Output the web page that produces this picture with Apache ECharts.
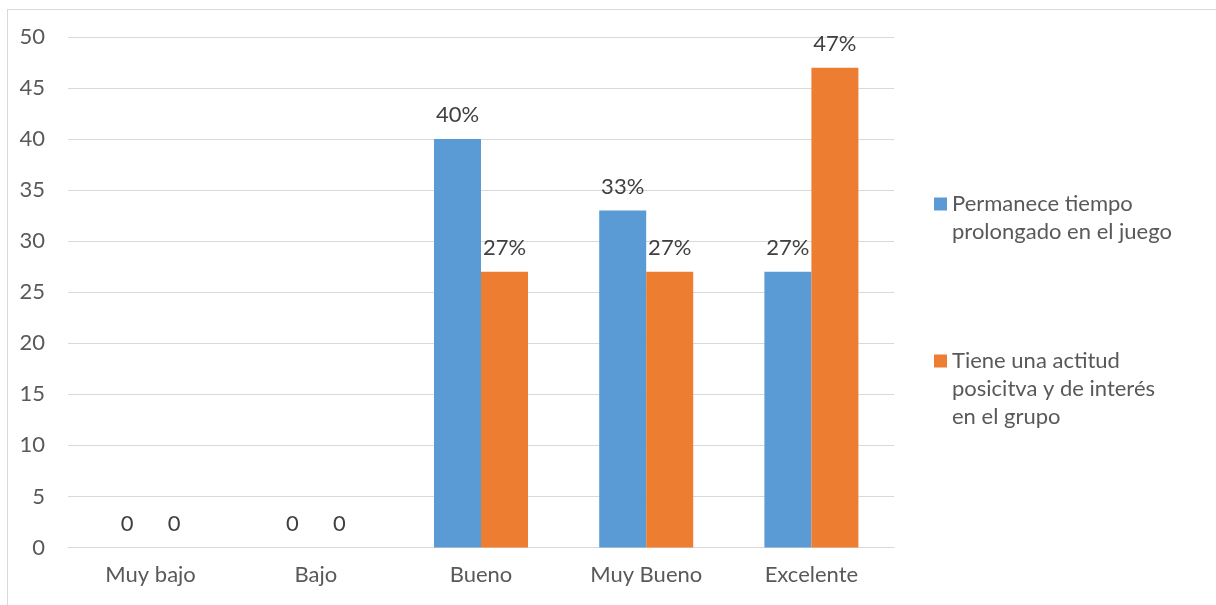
<!DOCTYPE html>
<html>
<head>
<meta charset="utf-8">
<script src="https://cdn.jsdelivr.net/npm/echarts@6/dist/echarts.min.js"></script>
<style>
html,body{margin:0;padding:0;background:#fff;overflow:hidden;}
#frame{position:absolute;left:7px;top:9px;width:1220px;height:610px;border:1px solid #D9D9D9;box-sizing:border-box;}
#chart{position:absolute;left:0;top:0;width:1216px;height:605px;}
</style>
</head>
<body>
<div id="frame"></div>
<div id="chart"></div>
<script>
const categories = ['Muy bajo', 'Bajo', 'Bueno', 'Muy Bueno', 'Excelente'];
const seriesNames = ['Permanece tiempo prolongado en el juego', 'Tiene una actitud posicitva y de interés en el grupo'];
const legendLines = [
  ['Permanece tiempo', 'prolongado en el juego'],
  ['Tiene una actitud', 'posicitva y de interés', 'en el grupo']
];
const permanece = [0, 0, 40, 33, 27];
const actitud = [0, 0, 27, 27, 47];
const yTicks = { min: 0, max: 50, interval: 5 };

const FONT = 'Lato';
const TXT = '#595959';
const FS = 22;
const chart = echarts.init(document.getElementById('chart'), null, { renderer: 'canvas' });

const labelFmt = p => (p.value === 0 ? '0' : p.value + '%');
const labelCfg = {
  show: true, position: 'top', distance: 13,
  formatter: labelFmt, color: '#404040', fontSize: FS, fontFamily: FONT
};

const LH = 28;
// leading blank lines so the first text line sits level with the legend square
const legendText = lines => '\n'.repeat(lines.length - 1) + lines.join('\n');
const legendBox = n => (2 * n - 1) * LH / 2;

chart.setOption({
  backgroundColor: 'transparent',
  animation: false,
  grid: { left: 68, right: 322, top: 37, bottom: 57.5, containLabel: false },
  xAxis: {
    type: 'category', data: categories,
    axisLine: { show: true, lineStyle: { color: '#D9D9D9', width: 1 } },
    axisTick: { show: false },
    axisLabel: { color: TXT, fontSize: FS, fontFamily: FONT, margin: 16 }
  },
  yAxis: {
    type: 'value', min: yTicks.min, max: yTicks.max, interval: yTicks.interval,
    axisLine: { show: false }, axisTick: { show: false },
    axisLabel: { color: TXT, fontSize: FS, fontFamily: FONT, margin: 23 },
    splitLine: { lineStyle: { color: '#D9D9D9', width: 1 } }
  },
  legend: [
    {
      orient: 'vertical', left: 934, top: 204 - legendBox(2), padding: 0,
      itemWidth: 13, itemHeight: 13, icon: 'rect',
      data: [seriesNames[0]],
      formatter: () => legendText(legendLines[0]),
      textStyle: { color: TXT, fontSize: FS, fontFamily: FONT, lineHeight: LH }
    },
    {
      orient: 'vertical', left: 934, top: 361 - legendBox(3), padding: 0,
      itemWidth: 13, itemHeight: 13, icon: 'rect',
      data: [seriesNames[1]],
      formatter: () => legendText(legendLines[1]),
      textStyle: { color: TXT, fontSize: FS, fontFamily: FONT, lineHeight: LH }
    }
  ],
  series: [
    { name: seriesNames[0], type: 'bar', data: permanece, barWidth: 47, barGap: '0%',
      itemStyle: { color: '#5B9BD5' }, label: labelCfg },
    { name: seriesNames[1], type: 'bar', data: actitud, barWidth: 47, barGap: '0%',
      itemStyle: { color: '#ED7D31' }, label: labelCfg }
  ]
});
</script>
</body>
</html>
